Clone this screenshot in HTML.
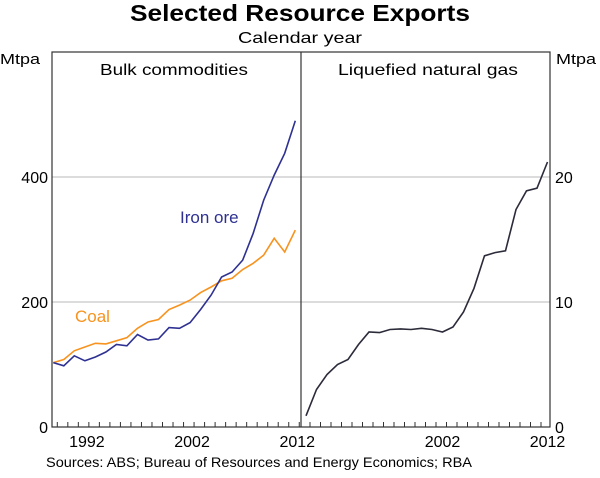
<!DOCTYPE html>
<html><head><meta charset="utf-8"><style>
body{margin:0;background:#fff;font-family:"Liberation Sans",Arial,sans-serif}
svg text{font-family:"Liberation Sans",Arial,sans-serif}
</style></head><body>
<svg id="c" width="600" height="473" xmlns="http://www.w3.org/2000/svg">
<text x="300" y="21" text-anchor="middle" font-size="23" font-weight="bold" fill="#000" textLength="340" lengthAdjust="spacingAndGlyphs">Selected Resource Exports</text>
<text x="300" y="43" text-anchor="middle" font-size="16" fill="#000" textLength="124" lengthAdjust="spacingAndGlyphs">Calendar year</text>
<text x="0" y="64" font-size="15" textLength="40" lengthAdjust="spacingAndGlyphs">Mtpa</text>
<text x="556" y="64" font-size="15" textLength="40" lengthAdjust="spacingAndGlyphs">Mtpa</text>
<text x="174" y="75" text-anchor="middle" font-size="16" textLength="148" lengthAdjust="spacingAndGlyphs">Bulk commodities</text>
<text x="428" y="75" text-anchor="middle" font-size="16" textLength="180" lengthAdjust="spacingAndGlyphs">Liquefied natural gas</text>
<g id="grid"></g><g id="marks"></g>
<rect x="52" y="52" width="498" height="375" fill="none" stroke="#333" stroke-width="1.2"/>
<line x1="301" y1="52" x2="301" y2="427" stroke="#333" stroke-width="1.2"/>
<text x="180" y="223" font-size="17" fill="#2e3192">Iron ore</text>
<text x="75" y="322" font-size="17" fill="#f7931e">Coal</text>
<text x="46" y="467" font-size="14" textLength="426" lengthAdjust="spacingAndGlyphs">Sources: ABS; Bureau of Resources and Energy Economics; RBA</text>
</svg>
<script>
const years=[1989,1990,1991,1992,1993,1994,1995,1996,1997,1998,1999,2000,2001,2002,2003,2004,2005,2006,2007,2008,2009,2010,2011,2012];
const ironOre=[103,98,114,106,112,120,132,130,148,139,141,159,158,167,188,211,240,248,267,310,363,403,438,490];
const coal=[103,108,122,128,134,133,138,143,158,168,172,188,195,203,215,224,234,238,252,262,275,302,280,315];
const lng=[0.9,3.0,4.2,5.0,5.4,6.6,7.6,7.55,7.8,7.85,7.8,7.9,7.8,7.6,8.0,9.2,11.1,13.7,13.95,14.1,17.4,18.9,19.1,21.2];
const leftTicks=[0,200,400];
const rightTicks=[0,10,20];
const xLabels=[1992,2002,2012];
const NS='http://www.w3.org/2000/svg';
const yL=v=>427-v*125/200, yR=v=>427-v*12.5;
const xL=y=>53.3+(y-1989)*10.52, xR=y=>306+(y-1989)*10.5;
const grid=document.getElementById('grid'),marks=document.getElementById('marks'),svg=document.getElementById('c');
function mk(t,a,p){const e=document.createElementNS(NS,t);for(const k in a)e.setAttribute(k,a[k]);(p||svg).appendChild(e);return e;}
leftTicks.forEach(v=>{
 if(v>0){const g=mk('line',{x1:52,x2:550,y1:yL(v),y2:yL(v),stroke:'#c8c8c8','stroke-width':1.2},grid);
 
 }
 const t=mk('text',{x:48,y:yL(v)+6,'text-anchor':'end','font-size':16});t.textContent=v;
 
 
});
rightTicks.forEach(v=>{
 const t=mk('text',{x:555,y:yR(v)+6,'font-size':16});t.textContent=v;
 
 
});
years.forEach(y=>{
 [xL(y)+4,xR(y)+4].forEach(x=>{if(x<548){const l=mk('line',{x1:x,x2:x,y1:427,y2:422,stroke:'#333','stroke-width':1});
 
 }});
});
xLabels.forEach(y=>{
 [[xL(y)+2,'left'],[xR(y),'right']].forEach(([x,s])=>{
 if(s==='right'&&y===1992)return;
 const t=mk('text',{x:x,y:447,'text-anchor':'middle','font-size':16});t.textContent=y;
 
 });
});
function line(vals,fx,fy,col,name){
 const d=vals.map((v,i)=>(i?'L':'M')+fx(years[i]).toFixed(1)+','+fy(v).toFixed(1)).join('');
 const p=mk('path',{d:d,fill:'none',stroke:col,'stroke-width':1.6},marks);
 
 
}
line(coal,xL,yL,'#f7931e','coal-line');
line(ironOre,xL,yL,'#2e3192','iron-ore-line');
line(lng,xR,yR,'#2b2b3a','lng-line');
</script>
</body></html>
